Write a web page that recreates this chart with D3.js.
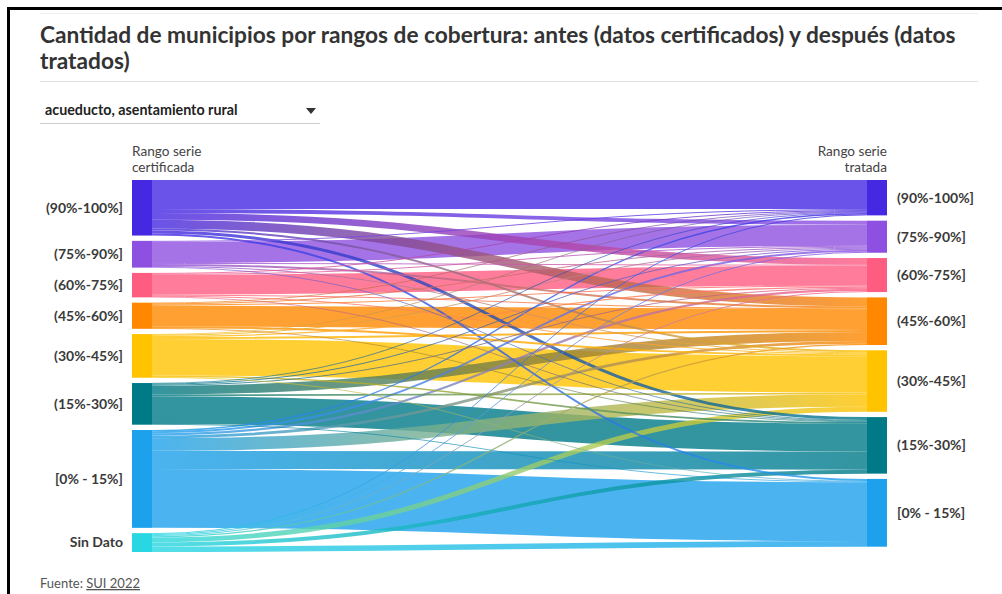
<!DOCTYPE html>
<html>
<head>
<meta charset="utf-8">
<script src="https://cdn.jsdelivr.net/npm/d3@7"></script>
<style>
  body { margin: 0; background: #fff; }
  svg { font-family: Lato, "Open Sans", sans-serif; }
</style>
</head>
<body>
<div id="chart"></div>
<script>
// ranges of the certified series (left) and treated series (right)
var sources = ["(90%-100%]", "(75%-90%]", "(60%-75%]", "(45%-60%]", "(30%-45%]", "(15%-30%]", "[0% - 15%]", "Sin Dato"];
var targets = ["(90%-100%]", "(75%-90%]", "(60%-75%]", "(45%-60%]", "(30%-45%]", "(15%-30%]", "[0% - 15%]"];
var colors = ["#4428e2", "#8e50e0", "#ff5c82", "#ff8800", "#ffc300", "#007a87", "#1ea1ec", "#28d7e1"];

// municipios going from each certified range to each treated range (targets order)
var from90 = [88, 12, 20, 27, 6, 9, 6];
var from75 = [3, 64, 3, 6, 3, 2, 0];
var from60 = [3, 3, 60, 3, 3, 2, 0];
var from45 = [2, 3, 3, 63, 6, 2, 0];
var from30 = [2, 3, 4, 6, 110, 5, 2];
var from15 = [2, 3, 3, 27, 5, 84, 2];
var from0 = [4, 6, 7, 8, 38, 55, 178];
var fromSD = [3, 3, 3, 4, 15, 12, 17];
var flows = [from90, from75, from60, from45, from30, from15, from0, fromSD];

var width = 1002, height = 594;
var svg = d3.select("#chart").append("svg")
    .attr("width", width)
    .attr("height", height);

// page frame
svg.append("path")
    .attr("d", "M8.5," + height + "V8.5H" + width)
    .attr("fill", "none")
    .attr("stroke", "#000")
    .attr("stroke-width", 3);
svg.append("line")
    .attr("x1", 40).attr("x2", 978).attr("y1", 13.5).attr("y2", 13.5)
    .attr("stroke", "#eee");

// title
var title = svg.append("text")
    .attr("x", 40)
    .attr("fill", "#333")
    .style("font-size", "22.7px")
    .style("font-weight", "700");
title.append("tspan").attr("x", 40).attr("y", 43)
    .text("Cantidad de municipios por rangos de cobertura: antes (datos certificados) y después (datos");
title.append("tspan").attr("x", 40).attr("y", 69).text("tratados)");

svg.append("line")
    .attr("x1", 40).attr("x2", 978).attr("y1", 81.5).attr("y2", 81.5)
    .attr("stroke", "#e2e2e2");

// dropdown
svg.append("text")
    .attr("x", 45).attr("y", 115)
    .attr("fill", "#222")
    .style("font-size", "14.3px")
    .style("font-weight", "700")
    .text("acueducto, asentamiento rural");
svg.append("path")
    .attr("d", "M306,108L316,108L311,114Z")
    .attr("fill", "#333");
svg.append("line")
    .attr("x1", 40).attr("x2", 320).attr("y1", 123.5).attr("y2", 123.5)
    .attr("stroke", "#ccc");

// sankey layout (two columns)
var yTop = 180, yBottom = 552, pad = 5.3, nodeW = 20;
var xLeft = 132, xRight = 867;

var total = d3.sum(flows, function (r) { return d3.sum(r); });
var ky = Math.min(
    (yBottom - yTop - (sources.length - 1) * pad) / total,
    (yBottom - yTop - (targets.length - 1) * pad) / total);
var y = d3.scaleLinear().domain([0, total]).range([0, total * ky]);

var leftNodes = sources.map(function (name, i) {
    return { name: name, color: colors[i], value: d3.sum(flows[i]) };
});
var rightNodes = targets.map(function (name, j) {
    return { name: name, color: colors[j], value: d3.sum(flows, function (r) { return r[j]; }) };
});

function stack(nodes, x0) {
    var acc = 0;
    nodes.forEach(function (n, i) {
        n.x0 = x0; n.x1 = x0 + nodeW;
        n.y0 = yTop + y(acc) + i * pad;
        n.y1 = n.y0 + y(n.value);
        acc += n.value;
    });
}
stack(leftNodes, xLeft);
stack(rightNodes, xRight);

// links, ordered at each end by the position of the other node
var links = [];
flows.forEach(function (row, i) {
    row.forEach(function (v, j) {
        if (v > 0) links.push({ source: leftNodes[i], target: rightNodes[j], value: v, i: i, j: j });
    });
});
leftNodes.forEach(function (n, i) {
    var acc = 0;
    links.filter(function (l) { return l.i === i; }).forEach(function (l) {
        l.y0 = n.y0 + y(acc) + y(l.value) / 2;
        acc += l.value;
    });
});
rightNodes.forEach(function (n, j) {
    var acc = 0;
    links.filter(function (l) { return l.j === j; }).forEach(function (l) {
        l.y1 = n.y0 + y(acc) + y(l.value) / 2;
        acc += l.value;
    });
});

var defs = svg.append("defs");
links.forEach(function (l, k) {
    var g = defs.append("linearGradient")
        .attr("id", "grad" + k)
        .attr("gradientUnits", "userSpaceOnUse")
        .attr("x1", l.source.x1).attr("x2", l.target.x0);
    g.append("stop").attr("offset", "0%").attr("stop-color", l.source.color);
    g.append("stop").attr("offset", "100%").attr("stop-color", l.target.color);
    l.grad = "url(#grad" + k + ")";
});

var linkPath = d3.linkHorizontal()
    .source(function (l) { return [l.source.x1, l.y0]; })
    .target(function (l) { return [l.target.x0, l.y1]; });

// big bands first so thin flows stay visible on top
var drawOrder = links.slice().sort(function (a, b) { return b.value - a.value; });
svg.append("g")
    .attr("fill", "none")
    .attr("stroke-opacity", 0.8)
    .selectAll("path")
    .data(drawOrder)
    .enter()
    .append("path")
    .attr("d", linkPath)
    .attr("stroke", function (l) { return l.grad; })
    .attr("stroke-width", function (l) { return Math.max(0.8, y(l.value)); });

// nodes
svg.append("g")
    .selectAll("rect")
    .data(leftNodes.concat(rightNodes))
    .enter()
    .append("rect")
    .attr("x", function (d) { return d.x0; })
    .attr("y", function (d) { return d.y0; })
    .attr("width", nodeW)
    .attr("height", function (d) { return d.y1 - d.y0; })
    .attr("fill", function (d) { return d.color; });

// node labels
svg.append("g")
    .style("font-size", "14px")
    .style("font-weight", "700")
    .attr("fill", "#3a3a3a")
    .selectAll("text")
    .data(leftNodes)
    .enter()
    .append("text")
    .attr("x", xLeft - 9)
    .attr("y", function (d) { return (d.y0 + d.y1) / 2; })
    .attr("dy", "0.35em")
    .attr("text-anchor", "end")
    .text(function (d) { return d.name; });
svg.append("g")
    .style("font-size", "14px")
    .style("font-weight", "700")
    .attr("fill", "#3a3a3a")
    .selectAll("text")
    .data(rightNodes)
    .enter()
    .append("text")
    .attr("x", xRight + nodeW + 10)
    .attr("y", function (d) { return (d.y0 + d.y1) / 2; })
    .attr("dy", "0.35em")
    .text(function (d) { return d.name; });

// column headers
var headL = svg.append("text").attr("fill", "#444").style("font-size", "13.6px");
headL.append("tspan").attr("x", xLeft).attr("y", 156).text("Rango serie");
headL.append("tspan").attr("x", xLeft).attr("y", 172).text("certificada");
var headR = svg.append("text").attr("fill", "#444").style("font-size", "13.6px")
    .attr("text-anchor", "end");
headR.append("tspan").attr("x", xRight + nodeW).attr("y", 156).text("Rango serie");
headR.append("tspan").attr("x", xRight + nodeW).attr("y", 172).text("tratada");

// source note
var note = svg.append("text")
    .attr("x", 40).attr("y", 588)
    .attr("fill", "#555")
    .style("font-size", "13px");
note.append("tspan").text("Fuente: ");
note.append("tspan").style("text-decoration", "underline").text("SUI 2022");
</script>
</body>
</html>
